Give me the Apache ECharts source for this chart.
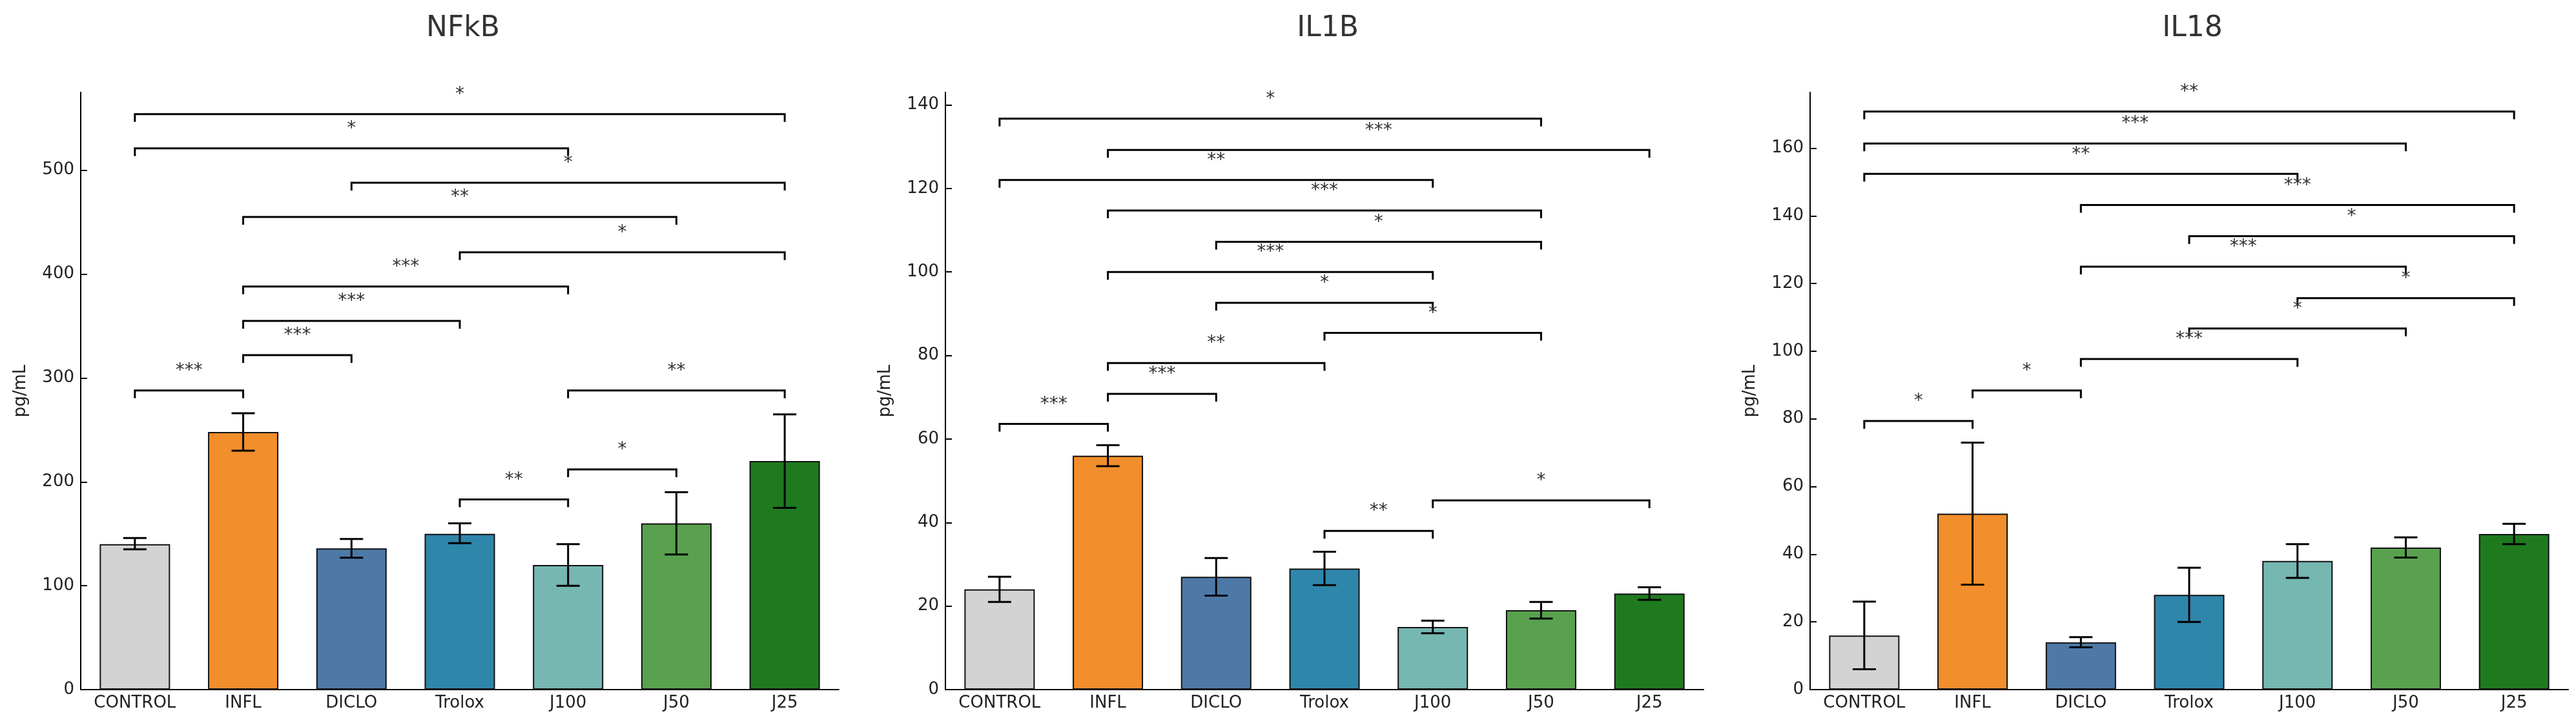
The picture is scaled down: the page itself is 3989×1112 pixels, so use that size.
<!DOCTYPE html>
<html lang="en">
<head>
<meta charset="UTF-8">
<title>cytokines</title>
<script src="https://cdn.jsdelivr.net/npm/echarts@6/dist/echarts.min.js"></script>
</head>
<body style="margin:0;background:#fff">
<div id="chart" style="width:3989px;height:1112px;"></div>
<script>
var categories = ['CONTROL', 'INFL', 'DICLO', 'Trolox', 'J100', 'J50', 'J25'];
var barColors = ['#d3d3d3', '#f28e2b', '#4e79a7', '#2e86ab', '#76b7b2', '#59a14f', '#1f7a1f'];
var titles = ['NFkB', 'IL1B', 'IL18'];

// mean, err low, err high
var nfkbMean = [140, 248, 136, 150, 120, 160, 220];
var nfkbLow  = [135, 230, 127, 141, 100, 130, 175];
var nfkbHigh = [146, 266, 145, 160, 140, 190, 265];
var il1bMean = [24, 56, 27, 29, 15, 19, 23];
var il1bLow  = [21, 53.5, 22.5, 25, 13.5, 17, 21.5];
var il1bHigh = [27, 58.5, 31.5, 33, 16.5, 21, 24.5];
var il18Mean = [16, 52, 14, 28, 38, 42, 46];
var il18Low  = [6, 31, 12.5, 20, 33, 39, 43];
var il18High = [26, 73, 15.5, 36, 43, 45, 49];

// brackets: [from, to, y, label]
var nfkbSig = [[0,6,554,'*'],[0,4,521,'*'],[2,6,488,'*'],[1,5,455,'**'],[3,6,421,'*'],[1,4,388,'***'],
  [1,3,355,'***'],[1,2,322,'***'],[0,1,288,'***'],[4,6,288,'**'],[4,5,212,'*'],[3,4,183,'**']];
var il1bSig = [[0,5,136.7,'*'],[1,6,129.2,'***'],[0,4,122,'**'],[1,5,114.7,'***'],[2,5,107.2,'*'],
  [1,4,100,'***'],[2,4,92.6,'*'],[3,5,85.4,'*'],[1,3,78.2,'**'],[1,2,70.8,'***'],[0,1,63.6,'***'],
  [4,6,45.3,'*'],[3,4,38,'**']];
var il18Sig = [[0,6,170.8,'**'],[0,5,161.4,'***'],[0,4,152.4,'**'],[2,6,143.2,'***'],[3,6,134,'*'],
  [2,5,125,'***'],[4,6,115.7,'*'],[3,5,106.7,'*'],[2,4,97.7,'***'],[1,2,88.4,'*'],[0,1,79.4,'*']];

var panels = [
  {mean: nfkbMean, low: nfkbLow, high: nfkbHigh, sig: nfkbSig, max: 575, interval: 100},
  {mean: il1bMean, low: il1bLow, high: il1bHigh, sig: il1bSig, max: 143, interval: 20},
  {mean: il18Mean, low: il18Low, high: il18High, sig: il18Sig, max: 176.5, interval: 20}
];
var lefts = [125, 1464, 2803];
var font = 'DejaVu Sans';

var option = {backgroundColor: '#fff', title: [], grid: [], xAxis: [], yAxis: [], series: []};

panels.forEach(function (p, k) {
  option.title.push({text: titles[k], left: lefts[k] + 587, top: 18, textAlign: 'center',
    textStyle: {fontFamily: font, fontSize: 44, fontWeight: 'normal', color: '#333'}});
  option.grid.push({left: lefts[k], width: 1174, top: 143, bottom: 44});
  option.xAxis.push({type: 'category', gridIndex: k, data: categories,
    axisLine: {lineStyle: {color: '#000', width: 2}},
    axisTick: {inside: true, alignWithLabel: true, length: 10, lineStyle: {color: '#000', width: 2}},
    axisLabel: {fontFamily: font, fontSize: 26, color: '#222', margin: 8}});
  option.yAxis.push({type: 'value', gridIndex: k, min: 0, max: p.max, interval: p.interval,
    name: 'pg/mL', nameLocation: 'middle', nameGap: 80,
    nameTextStyle: {fontFamily: font, fontSize: 26, color: '#222'},
    axisLine: {show: true, lineStyle: {color: '#000', width: 2}},
    axisTick: {show: true, inside: true, length: 10, lineStyle: {color: '#000', width: 2}},
    axisLabel: {fontFamily: font, fontSize: 26, color: '#222', margin: 10,
      showMaxLabel: false},
    splitLine: {show: false}});
  option.series.push({type: 'bar', xAxisIndex: k, yAxisIndex: k, barWidth: '65%',
    data: p.mean.map(function (v, i) {
      return {value: v, itemStyle: {color: barColors[i], borderColor: '#111', borderWidth: 2}};
    })});
  option.series.push({type: 'custom', xAxisIndex: k, yAxisIndex: k, z: 5,
    data: p.mean.map(function (v, i) { return [i, p.low[i], p.high[i]]; }),
    renderItem: function (params, api) {
      var a = api.coord([api.value(0), api.value(1)]);
      var b = api.coord([api.value(0), api.value(2)]);
      var c = 18, st = {stroke: '#000', lineWidth: 3};
      return {type: 'group', children: [
        {type: 'line', shape: {x1: a[0], y1: a[1], x2: b[0], y2: b[1]}, style: st},
        {type: 'line', shape: {x1: a[0] - c, y1: a[1], x2: a[0] + c, y2: a[1]}, style: st},
        {type: 'line', shape: {x1: b[0] - c, y1: b[1], x2: b[0] + c, y2: b[1]}, style: st}
      ]};
    }});
  option.series.push({type: 'custom', xAxisIndex: k, yAxisIndex: k, z: 6, clip: false,
    data: p.sig,
    renderItem: function (params, api) {
      var s = p.sig[params.dataIndex];
      var a = api.coord([s[0], s[2]]);
      var b = api.coord([s[1], s[2]]);
      var st = {stroke: '#000', lineWidth: 3, fill: null};
      return {type: 'group', children: [
        {type: 'polyline', shape: {points: [[a[0], a[1] + 12], [a[0], a[1]], [b[0], b[1]], [b[0], b[1] + 12]]}, style: st},
        {type: 'text', x: (a[0] + b[0]) / 2, y: a[1] - 16,
          style: {text: s[3], fontFamily: font, fontSize: 28, fill: '#333', align: 'center', verticalAlign: 'bottom'}}
      ]};
    }});
});

var chart = echarts.init(document.getElementById('chart'));
chart.setOption(option);
</script>
</body>
</html>
